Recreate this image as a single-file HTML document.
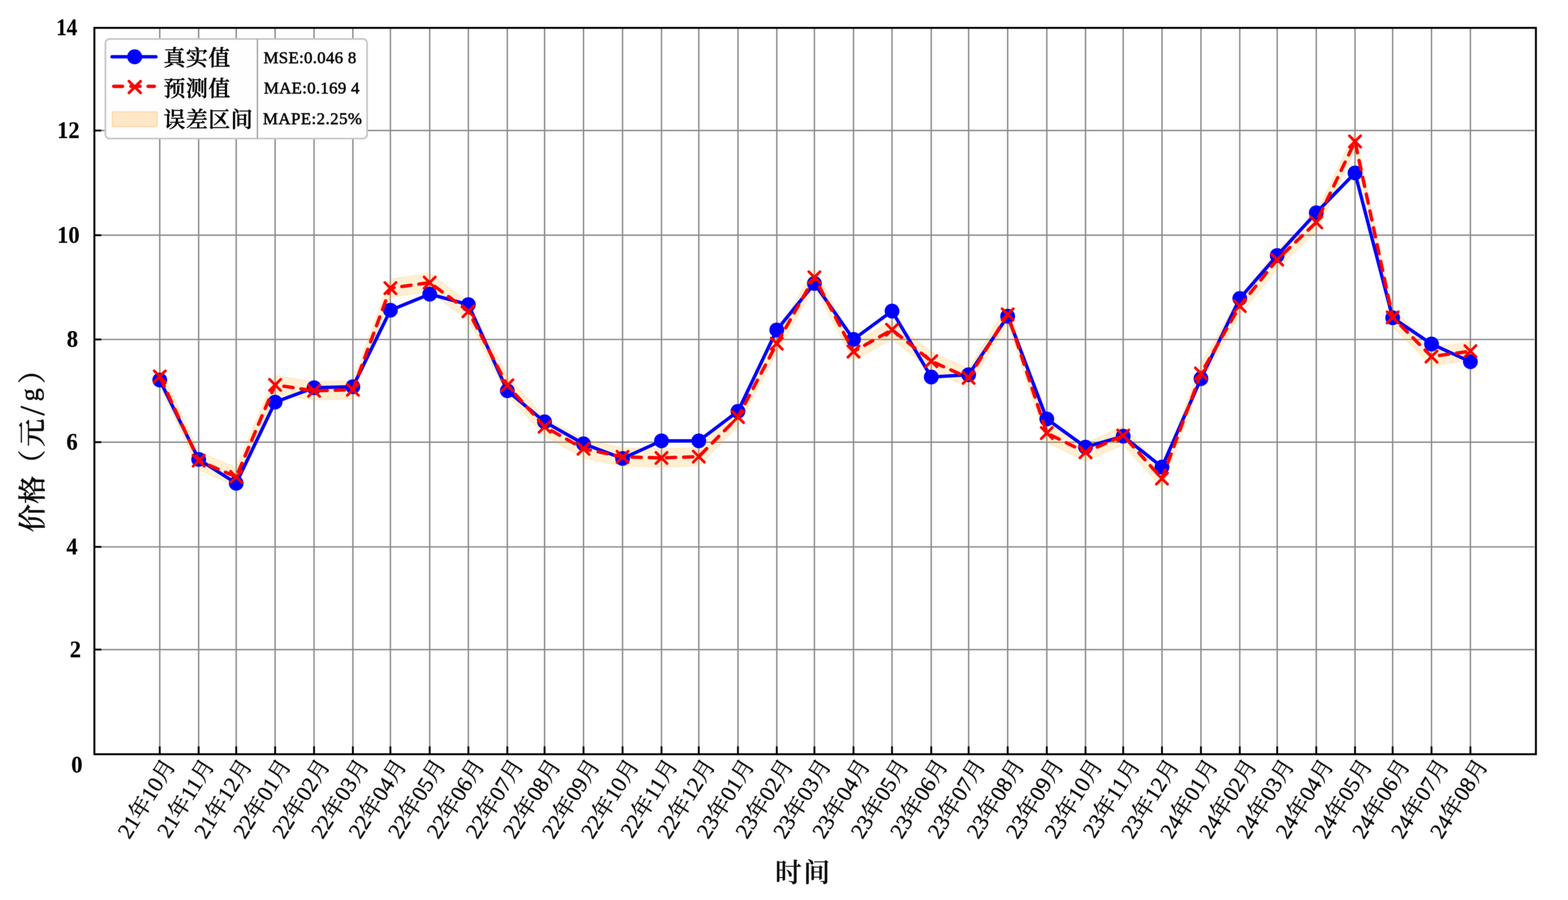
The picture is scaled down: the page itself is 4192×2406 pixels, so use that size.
<!DOCTYPE html>
<html lang="zh-CN"><head><meta charset="utf-8"><title>价格（元/g）- 时间</title>
<style>
html,body{margin:0;padding:0;background:#fff;}
body{width:4192px;height:2406px;}
svg{display:block;}
text{font-family:"Liberation Serif","Noto Serif CJK SC",serif;fill:#000;}
.yt{font-weight:bold;font-size:64px;text-anchor:end;stroke:#000;stroke-width:0.4px;}
.xt{font-size:59.2px;text-anchor:end;fill:#0a0a0a;stroke:#0a0a0a;stroke-width:0.8px;stroke-linejoin:round;}
.lg{font-size:58.5px;letter-spacing:1.5px;font-weight:500;fill:#000;stroke:#000;stroke-width:1.2px;stroke-linejoin:round;}
.st{font-size:45px;letter-spacing:0.8px;fill:#0a0a0a;stroke:#0a0a0a;stroke-width:1.35px;stroke-linejoin:round;}
.yl{font-size:75px;font-weight:500;text-anchor:middle;fill:#0a0a0a;stroke:#0a0a0a;stroke-width:1px;stroke-linejoin:round;}
.xl{font-size:71px;font-weight:600;letter-spacing:5px;text-anchor:middle;fill:#0a0a0a;stroke:#0a0a0a;stroke-width:0.4px;}
</style></head><body>
<svg width="4192" height="2406" viewBox="0 0 4192 2406">
<defs><filter id="soft" filterUnits="userSpaceOnUse" x="0" y="0" width="4192" height="2406" color-interpolation-filters="sRGB"><feGaussianBlur in="SourceGraphic" stdDeviation="0.8" result="b"/><feComposite in="SourceGraphic" in2="b" operator="arithmetic" k1="0" k2="0.45" k3="0.55" k4="0"/></filter></defs>
<rect x="0" y="0" width="4192" height="2406" fill="#ffffff"/>
<g filter="url(#soft)">
<rect x="0" y="0" width="4192" height="2406" fill="#ffffff"/>
<g stroke="#8a8a8a" stroke-width="3.7" fill="none">
<line x1="427.1" y1="74.5" x2="427.1" y2="1996.3"/>
<line x1="531.1" y1="74.5" x2="531.1" y2="1996.3"/>
<line x1="631.5" y1="74.5" x2="631.5" y2="1996.3"/>
<line x1="735.5" y1="74.5" x2="735.5" y2="1996.3"/>
<line x1="839.6" y1="74.5" x2="839.6" y2="1996.3"/>
<line x1="943.4" y1="74.5" x2="943.4" y2="1996.3"/>
<line x1="1043.7" y1="74.5" x2="1043.7" y2="1996.3"/>
<line x1="1148.8" y1="74.5" x2="1148.8" y2="1996.3"/>
<line x1="1252.2" y1="74.5" x2="1252.2" y2="1996.3"/>
<line x1="1356.3" y1="74.5" x2="1356.3" y2="1996.3"/>
<line x1="1455.9" y1="74.5" x2="1455.9" y2="1996.3"/>
<line x1="1560.0" y1="74.5" x2="1560.0" y2="1996.3"/>
<line x1="1664.4" y1="74.5" x2="1664.4" y2="1996.3"/>
<line x1="1768.5" y1="74.5" x2="1768.5" y2="1996.3"/>
<line x1="1868.2" y1="74.5" x2="1868.2" y2="1996.3"/>
<line x1="1972.9" y1="74.5" x2="1972.9" y2="1996.3"/>
<line x1="2076.7" y1="74.5" x2="2076.7" y2="1996.3"/>
<line x1="2177.3" y1="74.5" x2="2177.3" y2="1996.3"/>
<line x1="2281.8" y1="74.5" x2="2281.8" y2="1996.3"/>
<line x1="2384.8" y1="74.5" x2="2384.8" y2="1996.3"/>
<line x1="2489.6" y1="74.5" x2="2489.6" y2="1996.3"/>
<line x1="2589.6" y1="74.5" x2="2589.6" y2="1996.3"/>
<line x1="2694.0" y1="74.5" x2="2694.0" y2="1996.3"/>
<line x1="2798.6" y1="74.5" x2="2798.6" y2="1996.3"/>
<line x1="2902.1" y1="74.5" x2="2902.1" y2="1996.3"/>
<line x1="3002.8" y1="74.5" x2="3002.8" y2="1996.3"/>
<line x1="3106.5" y1="74.5" x2="3106.5" y2="1996.3"/>
<line x1="3210.7" y1="74.5" x2="3210.7" y2="1996.3"/>
<line x1="3314.5" y1="74.5" x2="3314.5" y2="1996.3"/>
<line x1="3414.5" y1="74.5" x2="3414.5" y2="1996.3"/>
<line x1="3519.0" y1="74.5" x2="3519.0" y2="1996.3"/>
<line x1="3622.6" y1="74.5" x2="3622.6" y2="1996.3"/>
<line x1="3723.2" y1="74.5" x2="3723.2" y2="1996.3"/>
<line x1="3827.1" y1="74.5" x2="3827.1" y2="1996.3"/>
<line x1="3931.1" y1="74.5" x2="3931.1" y2="1996.3"/>
<line x1="272.3" y1="348.9" x2="4102.2" y2="348.9"/>
<line x1="272.3" y1="628.7" x2="4102.2" y2="628.7"/>
<line x1="272.3" y1="907.5" x2="4102.2" y2="907.5"/>
<line x1="272.3" y1="1182.1" x2="4102.2" y2="1182.1"/>
<line x1="272.3" y1="1462.0" x2="4102.2" y2="1462.0"/>
<line x1="272.3" y1="1736.6" x2="4102.2" y2="1736.6"/>
</g>
<polygon points="427.1,981.7 531.1,1207.0 631.5,1250.3 735.5,1004.5 839.6,1020.3 943.4,1017.5 1043.7,745.7 1148.8,731.0 1252.2,807.7 1356.3,1005.6 1455.9,1116.2 1560.0,1175.3 1664.4,1196.9 1768.5,1199.7 1868.2,1196.2 1972.9,1090.4 2076.7,894.1 2177.3,716.8 2281.8,915.4 2384.8,857.0 2489.6,941.1 2589.6,985.8 2694.0,815.7 2798.6,1133.2 2902.1,1184.5 3002.8,1139.8 3106.5,1254.9 3210.7,973.9 3314.5,793.7 3414.5,669.5 3519.0,570.0 3622.6,353.6 3723.2,823.9 3827.1,928.7 3931.1,914.3 3931.1,963.3 3827.1,977.7 3723.2,872.9 3622.6,402.6 3519.0,619.0 3414.5,718.5 3314.5,842.7 3210.7,1022.9 3106.5,1303.9 3002.8,1188.8 2902.1,1233.5 2798.6,1182.2 2694.0,864.7 2589.6,1034.8 2489.6,990.1 2384.8,906.0 2281.8,964.4 2177.3,765.8 2076.7,943.1 1972.9,1139.4 1868.2,1245.2 1768.5,1248.7 1664.4,1245.9 1560.0,1224.3 1455.9,1165.2 1356.3,1054.6 1252.2,856.7 1148.8,780.0 1043.7,794.7 943.4,1066.5 839.6,1069.3 735.5,1053.5 631.5,1299.3 531.1,1256.0 427.1,1030.7" fill="#ffa500" fill-opacity="0.17" stroke="#ffa500" stroke-opacity="0.12" stroke-width="3.5" stroke-linejoin="round"/>
<polyline points="427.1,1016.0 531.1,1228.0 631.5,1292.0 735.5,1075.0 839.6,1036.5 943.4,1033.7 1043.7,829.3 1148.8,786.4 1252.2,814.4 1356.3,1044.5 1455.9,1127.6 1560.0,1186.4 1664.4,1225.5 1768.5,1178.5 1868.2,1178.5 1972.9,1099.5 2076.7,882.1 2177.3,757.8 2281.8,907.2 2384.8,831.6 2489.6,1007.9 2589.6,1001.7 2694.0,845.4 2798.6,1120.0 2902.1,1195.2 3002.8,1166.0 3106.5,1248.5 3210.7,1012.1 3314.5,797.9 3414.5,683.0 3519.0,568.7 3622.6,462.3 3723.2,849.5 3827.1,919.6 3931.1,967.0" fill="none" stroke="#0000ff" stroke-width="9" stroke-linejoin="round" stroke-linecap="round"/>
<g fill="#0000ff">
<circle cx="427.1" cy="1016.0" r="19.8"/>
<circle cx="531.1" cy="1228.0" r="19.8"/>
<circle cx="631.5" cy="1292.0" r="19.8"/>
<circle cx="735.5" cy="1075.0" r="19.8"/>
<circle cx="839.6" cy="1036.5" r="19.8"/>
<circle cx="943.4" cy="1033.7" r="19.8"/>
<circle cx="1043.7" cy="829.3" r="19.8"/>
<circle cx="1148.8" cy="786.4" r="19.8"/>
<circle cx="1252.2" cy="814.4" r="19.8"/>
<circle cx="1356.3" cy="1044.5" r="19.8"/>
<circle cx="1455.9" cy="1127.6" r="19.8"/>
<circle cx="1560.0" cy="1186.4" r="19.8"/>
<circle cx="1664.4" cy="1225.5" r="19.8"/>
<circle cx="1768.5" cy="1178.5" r="19.8"/>
<circle cx="1868.2" cy="1178.5" r="19.8"/>
<circle cx="1972.9" cy="1099.5" r="19.8"/>
<circle cx="2076.7" cy="882.1" r="19.8"/>
<circle cx="2177.3" cy="757.8" r="19.8"/>
<circle cx="2281.8" cy="907.2" r="19.8"/>
<circle cx="2384.8" cy="831.6" r="19.8"/>
<circle cx="2489.6" cy="1007.9" r="19.8"/>
<circle cx="2589.6" cy="1001.7" r="19.8"/>
<circle cx="2694.0" cy="845.4" r="19.8"/>
<circle cx="2798.6" cy="1120.0" r="19.8"/>
<circle cx="2902.1" cy="1195.2" r="19.8"/>
<circle cx="3002.8" cy="1166.0" r="19.8"/>
<circle cx="3106.5" cy="1248.5" r="19.8"/>
<circle cx="3210.7" cy="1012.1" r="19.8"/>
<circle cx="3314.5" cy="797.9" r="19.8"/>
<circle cx="3414.5" cy="683.0" r="19.8"/>
<circle cx="3519.0" cy="568.7" r="19.8"/>
<circle cx="3622.6" cy="462.3" r="19.8"/>
<circle cx="3723.2" cy="849.5" r="19.8"/>
<circle cx="3827.1" cy="919.6" r="19.8"/>
<circle cx="3931.1" cy="967.0" r="19.8"/>
</g>
<polyline points="427.1,1006.2 531.1,1231.5 631.5,1274.8 735.5,1029.0 839.6,1044.8 943.4,1042.0 1043.7,770.2 1148.8,755.5 1252.2,832.2 1356.3,1030.1 1455.9,1140.7 1560.0,1199.8 1664.4,1221.4 1768.5,1224.2 1868.2,1220.7 1972.9,1114.9 2076.7,918.6 2177.3,741.3 2281.8,939.9 2384.8,881.5 2489.6,965.6 2589.6,1010.3 2694.0,840.2 2798.6,1157.7 2902.1,1209.0 3002.8,1164.3 3106.5,1279.4 3210.7,998.4 3314.5,818.2 3414.5,694.0 3519.0,594.5 3622.6,378.1 3723.2,848.4 3827.1,953.2 3931.1,938.8" fill="none" stroke="#ff0000" stroke-width="9" stroke-dasharray="25 21" stroke-dashoffset="-4" stroke-linecap="round" stroke-linejoin="round"/>
<g stroke="#ff0000" stroke-width="7.2" stroke-linecap="round" fill="none">
<path d="M412.1 991.2l30 30m0 -30l-30 30"/>
<path d="M516.1 1216.5l30 30m0 -30l-30 30"/>
<path d="M616.5 1259.8l30 30m0 -30l-30 30"/>
<path d="M720.5 1014.0l30 30m0 -30l-30 30"/>
<path d="M824.6 1029.8l30 30m0 -30l-30 30"/>
<path d="M928.4 1027.0l30 30m0 -30l-30 30"/>
<path d="M1028.7 755.2l30 30m0 -30l-30 30"/>
<path d="M1133.8 740.5l30 30m0 -30l-30 30"/>
<path d="M1237.2 817.2l30 30m0 -30l-30 30"/>
<path d="M1341.3 1015.1l30 30m0 -30l-30 30"/>
<path d="M1440.9 1125.7l30 30m0 -30l-30 30"/>
<path d="M1545.0 1184.8l30 30m0 -30l-30 30"/>
<path d="M1649.4 1206.4l30 30m0 -30l-30 30"/>
<path d="M1753.5 1209.2l30 30m0 -30l-30 30"/>
<path d="M1853.2 1205.7l30 30m0 -30l-30 30"/>
<path d="M1957.9 1099.9l30 30m0 -30l-30 30"/>
<path d="M2061.7 903.6l30 30m0 -30l-30 30"/>
<path d="M2162.3 726.3l30 30m0 -30l-30 30"/>
<path d="M2266.8 924.9l30 30m0 -30l-30 30"/>
<path d="M2369.8 866.5l30 30m0 -30l-30 30"/>
<path d="M2474.6 950.6l30 30m0 -30l-30 30"/>
<path d="M2574.6 995.3l30 30m0 -30l-30 30"/>
<path d="M2679.0 825.2l30 30m0 -30l-30 30"/>
<path d="M2783.6 1142.7l30 30m0 -30l-30 30"/>
<path d="M2887.1 1194.0l30 30m0 -30l-30 30"/>
<path d="M2987.8 1149.3l30 30m0 -30l-30 30"/>
<path d="M3091.5 1264.4l30 30m0 -30l-30 30"/>
<path d="M3195.7 983.4l30 30m0 -30l-30 30"/>
<path d="M3299.5 803.2l30 30m0 -30l-30 30"/>
<path d="M3399.5 679.0l30 30m0 -30l-30 30"/>
<path d="M3504.0 579.5l30 30m0 -30l-30 30"/>
<path d="M3607.6 363.1l30 30m0 -30l-30 30"/>
<path d="M3708.2 833.4l30 30m0 -30l-30 30"/>
<path d="M3812.1 938.2l30 30m0 -30l-30 30"/>
<path d="M3916.1 923.8l30 30m0 -30l-30 30"/>
</g>
<g stroke="#000" stroke-width="5" stroke-linecap="round">
<line x1="427.1" y1="2016.3" x2="427.1" y2="1997.3"/>
<line x1="531.1" y1="2016.3" x2="531.1" y2="1997.3"/>
<line x1="631.5" y1="2016.3" x2="631.5" y2="1997.3"/>
<line x1="735.5" y1="2016.3" x2="735.5" y2="1997.3"/>
<line x1="839.6" y1="2016.3" x2="839.6" y2="1997.3"/>
<line x1="943.4" y1="2016.3" x2="943.4" y2="1997.3"/>
<line x1="1043.7" y1="2016.3" x2="1043.7" y2="1997.3"/>
<line x1="1148.8" y1="2016.3" x2="1148.8" y2="1997.3"/>
<line x1="1252.2" y1="2016.3" x2="1252.2" y2="1997.3"/>
<line x1="1356.3" y1="2016.3" x2="1356.3" y2="1997.3"/>
<line x1="1455.9" y1="2016.3" x2="1455.9" y2="1997.3"/>
<line x1="1560.0" y1="2016.3" x2="1560.0" y2="1997.3"/>
<line x1="1664.4" y1="2016.3" x2="1664.4" y2="1997.3"/>
<line x1="1768.5" y1="2016.3" x2="1768.5" y2="1997.3"/>
<line x1="1868.2" y1="2016.3" x2="1868.2" y2="1997.3"/>
<line x1="1972.9" y1="2016.3" x2="1972.9" y2="1997.3"/>
<line x1="2076.7" y1="2016.3" x2="2076.7" y2="1997.3"/>
<line x1="2177.3" y1="2016.3" x2="2177.3" y2="1997.3"/>
<line x1="2281.8" y1="2016.3" x2="2281.8" y2="1997.3"/>
<line x1="2384.8" y1="2016.3" x2="2384.8" y2="1997.3"/>
<line x1="2489.6" y1="2016.3" x2="2489.6" y2="1997.3"/>
<line x1="2589.6" y1="2016.3" x2="2589.6" y2="1997.3"/>
<line x1="2694.0" y1="2016.3" x2="2694.0" y2="1997.3"/>
<line x1="2798.6" y1="2016.3" x2="2798.6" y2="1997.3"/>
<line x1="2902.1" y1="2016.3" x2="2902.1" y2="1997.3"/>
<line x1="3002.8" y1="2016.3" x2="3002.8" y2="1997.3"/>
<line x1="3106.5" y1="2016.3" x2="3106.5" y2="1997.3"/>
<line x1="3210.7" y1="2016.3" x2="3210.7" y2="1997.3"/>
<line x1="3314.5" y1="2016.3" x2="3314.5" y2="1997.3"/>
<line x1="3414.5" y1="2016.3" x2="3414.5" y2="1997.3"/>
<line x1="3519.0" y1="2016.3" x2="3519.0" y2="1997.3"/>
<line x1="3622.6" y1="2016.3" x2="3622.6" y2="1997.3"/>
<line x1="3723.2" y1="2016.3" x2="3723.2" y2="1997.3"/>
<line x1="3827.1" y1="2016.3" x2="3827.1" y2="1997.3"/>
<line x1="3931.1" y1="2016.3" x2="3931.1" y2="1997.3"/>
<line x1="252.3" y1="348.9" x2="269.3" y2="348.9"/>
<line x1="252.3" y1="628.7" x2="269.3" y2="628.7"/>
<line x1="252.3" y1="907.5" x2="269.3" y2="907.5"/>
<line x1="252.3" y1="1182.1" x2="269.3" y2="1182.1"/>
<line x1="252.3" y1="1462.0" x2="269.3" y2="1462.0"/>
<line x1="252.3" y1="1736.6" x2="269.3" y2="1736.6"/>
</g>
<rect x="252.3" y="74.5" width="3853.9" height="1941.8" fill="none" stroke="#000" stroke-width="5.2"/>
<text class="yt" transform="translate(206.5,93.9) scale(0.88,1)">14</text>
<text class="yt" transform="translate(212.8,369.4) scale(0.94,1)">12</text>
<text class="yt" transform="translate(212.8,649.1) scale(0.94,1)">10</text>
<text class="yt" transform="translate(208.5,927.4) scale(0.94,1)">8</text>
<text class="yt" transform="translate(207.5,1202.1) scale(0.94,1)">6</text>
<text class="yt" transform="translate(207.5,1481.9) scale(0.94,1)">4</text>
<text class="yt" transform="translate(216.5,1757.3) scale(0.94,1)">2</text>
<text class="yt" transform="translate(220.5,2064.9) scale(0.94,1)">0</text>
<text class="xt" transform="translate(471.1,2044.7) rotate(-58)">21年10月</text>
<text class="xt" transform="translate(575.2,2044.7) rotate(-58)">21年11月</text>
<text class="xt" transform="translate(675.8,2044.7) rotate(-58)">21年12月</text>
<text class="xt" transform="translate(779.9,2044.7) rotate(-58)">22年01月</text>
<text class="xt" transform="translate(884.1,2044.7) rotate(-58)">22年02月</text>
<text class="xt" transform="translate(988.1,2044.7) rotate(-58)">22年03月</text>
<text class="xt" transform="translate(1088.5,2044.7) rotate(-58)">22年04月</text>
<text class="xt" transform="translate(1193.7,2044.7) rotate(-58)">22年05月</text>
<text class="xt" transform="translate(1297.3,2044.7) rotate(-58)">22年06月</text>
<text class="xt" transform="translate(1401.5,2044.7) rotate(-58)">22年07月</text>
<text class="xt" transform="translate(1501.2,2044.7) rotate(-58)">22年08月</text>
<text class="xt" transform="translate(1605.5,2044.7) rotate(-58)">22年09月</text>
<text class="xt" transform="translate(1710.0,2044.7) rotate(-58)">22年10月</text>
<text class="xt" transform="translate(1814.2,2044.7) rotate(-58)">22年11月</text>
<text class="xt" transform="translate(1914.1,2044.7) rotate(-58)">22年12月</text>
<text class="xt" transform="translate(2018.9,2044.7) rotate(-58)">23年01月</text>
<text class="xt" transform="translate(2122.8,2044.7) rotate(-58)">23年02月</text>
<text class="xt" transform="translate(2223.6,2044.7) rotate(-58)">23年03月</text>
<text class="xt" transform="translate(2328.2,2044.7) rotate(-58)">23年04月</text>
<text class="xt" transform="translate(2431.3,2044.7) rotate(-58)">23年05月</text>
<text class="xt" transform="translate(2536.2,2044.7) rotate(-58)">23年06月</text>
<text class="xt" transform="translate(2636.4,2044.7) rotate(-58)">23年07月</text>
<text class="xt" transform="translate(2740.9,2044.7) rotate(-58)">23年08月</text>
<text class="xt" transform="translate(2845.6,2044.7) rotate(-58)">23年09月</text>
<text class="xt" transform="translate(2949.3,2044.7) rotate(-58)">23年10月</text>
<text class="xt" transform="translate(3050.1,2044.7) rotate(-58)">23年11月</text>
<text class="xt" transform="translate(3153.9,2044.7) rotate(-58)">23年12月</text>
<text class="xt" transform="translate(3258.3,2044.7) rotate(-58)">24年01月</text>
<text class="xt" transform="translate(3362.2,2044.7) rotate(-58)">24年02月</text>
<text class="xt" transform="translate(3462.3,2044.7) rotate(-58)">24年03月</text>
<text class="xt" transform="translate(3567.0,2044.7) rotate(-58)">24年04月</text>
<text class="xt" transform="translate(3670.7,2044.7) rotate(-58)">24年05月</text>
<text class="xt" transform="translate(3771.4,2044.7) rotate(-58)">24年06月</text>
<text class="xt" transform="translate(3875.5,2044.7) rotate(-58)">24年07月</text>
<text class="xt" transform="translate(3979.6,2044.7) rotate(-58)">24年08月</text>
<text class="xl" x="2148" y="2357">时间</text>
<text class="yl" transform="rotate(-90)" x="-1385.3 -1309.5 -1240.0 -1157.0 -1098.0 -1055.5 -988.5" y="113">价格（元<tspan font-size="93" font-weight="400" dy="4">/</tspan><tspan font-size="70" font-weight="400" dy="-15.5">g</tspan><tspan dy="11.5">）</tspan></text>
<rect x="281.8" y="104.3" width="699.7" height="266.1" rx="11" ry="11" fill="#fefefe" stroke="#c6c6c6" stroke-width="4.4"/>
<line x1="688.2" y1="105" x2="688.2" y2="370" stroke="#909090" stroke-width="3"/>
<line x1="299.5" y1="151.8" x2="417" y2="151.8" stroke="#0000ff" stroke-width="9" stroke-linecap="round"/>
<circle cx="360" cy="151.8" r="20" fill="#0000ff"/>
<path d="M304 230.8H327.5M396 230.8H412.5" stroke="#ff0000" stroke-width="9.2" stroke-linecap="round" fill="none"/>
<path d="M344.8 217.2l31 31m0 -31l-31 31" stroke="#ff0000" stroke-width="7.4" stroke-linecap="round" fill="none"/>
<line x1="350" y1="230.8" x2="374.5" y2="230.8" stroke="#ff0000" stroke-width="9" stroke-linecap="round"/>
<rect x="300.5" y="299" width="119.5" height="39.5" rx="2" fill="#fee8c8" stroke="#fcd9a8" stroke-width="3"/>
<text class="lg" x="437" y="175">真实值</text>
<text class="lg" x="437" y="257">预测值</text>
<text class="lg" x="437" y="339.5">误差区间</text>
<text class="st" x="704.5" y="168.8">MSE:0.046 8</text>
<text class="st" x="705.5" y="250.4">MAE:0.169 4</text>
<text class="st" x="703" y="331.5" style="letter-spacing:1.2px">MAPE:2.25%</text>
</g>
</svg>
</body></html>
